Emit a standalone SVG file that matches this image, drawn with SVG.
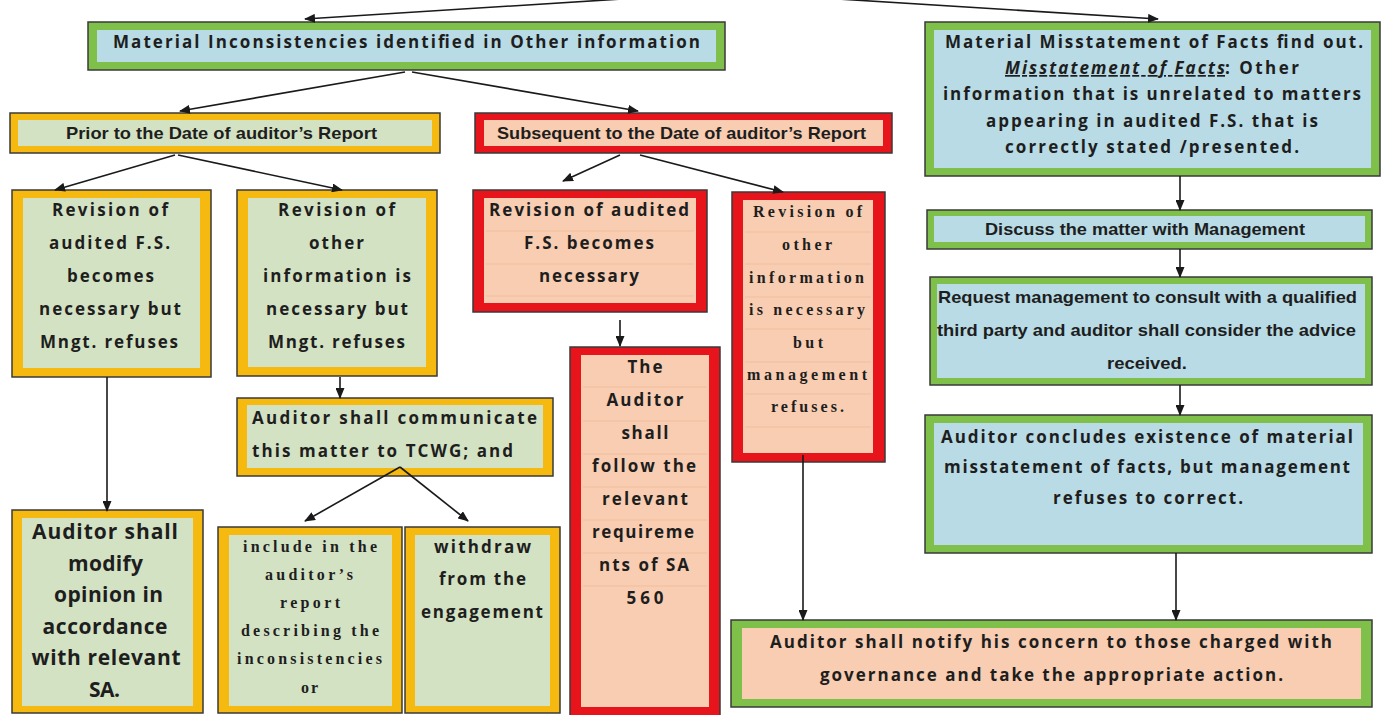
<svg xmlns="http://www.w3.org/2000/svg" width="1386" height="715" viewBox="0 0 1386 715">
  <style>
    .frame { stroke: #3a3a3a; stroke-width: 1.5; }
    .g-out { fill: #7fc04a; }
    .o-out { fill: #f5b90f; }
    .r-out { fill: #e8141c; }
    .blue { fill: #b8dbe6; }
    .sage { fill: #d4e2c4; }
    .peach { fill: #f8cdb2; }
    .rule { stroke: #f2bd9e; stroke-width: 1; }
    text { font-family: "Open Sans", "DejaVu Sans", sans-serif; font-weight: bold; fill: #1e1e1e; text-anchor: middle; font-size: 17px; }
    .cd { font-family: "Liberation Sans", Arial, sans-serif; }
    .serif { font-family: "Liberation Serif", "Times New Roman", serif; font-size: 16px; }
    .big { font-size: 21px; }
    .start { text-anchor: start; }
    .em { font-style: italic; text-decoration: underline; }
    .conn line { stroke: #1a1a1a; stroke-width: 1.6; marker-end: url(#arrow); }
  </style>
  <defs>
    <marker id="arrow" markerUnits="userSpaceOnUse" markerWidth="11" markerHeight="9" refX="10" refY="4.5" orient="auto">
      <path d="M0,0 L11,4.5 L0,9 z" fill="#1a1a1a"/>
    </marker>
  </defs>
  <rect width="1386" height="715" fill="#ffffff"/>

  <g id="n-inconsistencies">
    <rect class="g-out frame" x="88" y="22" width="637" height="48"/>
    <rect class="blue" x="97" y="30" width="619" height="32"/>
    <text x="406.5" y="48" textLength="587" lengthAdjust="spacing">Material Inconsistencies identified in Other information</text>
  </g>

  <g id="n-prior">
    <rect class="o-out frame" x="10" y="113" width="430" height="40"/>
    <rect class="sage" x="18" y="120" width="414" height="26"/>
    <text class="cd" x="221.5" y="139" textLength="311" lengthAdjust="spacingAndGlyphs">Prior to the Date of auditor’s Report</text>
  </g>

  <g id="n-subsequent">
    <rect class="r-out frame" x="475" y="113" width="417" height="40"/>
    <rect class="peach" x="484" y="120" width="399" height="26"/>
    <text class="cd" x="681.5" y="139" textLength="369" lengthAdjust="spacingAndGlyphs">Subsequent to the Date of auditor’s Report</text>
  </g>

  <g id="n-prior-fs">
    <rect class="o-out frame" x="12" y="190" width="199" height="187"/>
    <rect class="sage" x="23" y="198" width="177" height="170"/>
    <text x="110" y="216" textLength="116" lengthAdjust="spacing">Revision of</text>
    <text x="109.5" y="249" textLength="121" lengthAdjust="spacing">audited F.S.</text>
    <text x="110.5" y="282" textLength="87" lengthAdjust="spacing">becomes</text>
    <text x="110" y="315" textLength="142" lengthAdjust="spacing">necessary but</text>
    <text x="109" y="348" textLength="138" lengthAdjust="spacing">Mngt. refuses</text>
  </g>

  <g id="n-prior-oi">
    <rect class="o-out frame" x="237" y="190" width="200" height="186"/>
    <rect class="sage" x="248" y="198" width="178" height="169"/>
    <text x="336.5" y="216" textLength="117" lengthAdjust="spacing">Revision of</text>
    <text x="336.5" y="249" textLength="55" lengthAdjust="spacing">other</text>
    <text x="337" y="282" textLength="148" lengthAdjust="spacing">information is</text>
    <text x="337" y="315" textLength="142" lengthAdjust="spacing">necessary but</text>
    <text x="336.5" y="348" textLength="137" lengthAdjust="spacing">Mngt. refuses</text>
  </g>

  <g id="n-communicate">
    <rect class="o-out frame" x="237" y="398" width="316" height="78"/>
    <rect class="sage" x="247" y="405" width="296" height="63"/>
    <text class="start" x="252" y="424" textLength="285" lengthAdjust="spacing">Auditor shall communicate</text>
    <text class="start" x="252" y="457" textLength="261" lengthAdjust="spacing">this matter to TCWG; and</text>
  </g>

  <g id="n-modify">
    <rect class="o-out frame" x="12" y="510" width="191" height="203"/>
    <rect class="sage" x="22" y="518" width="171" height="188"/>
    <text class="big" x="105" y="539" textLength="146" lengthAdjust="spacing">Auditor shall</text>
    <text class="big" x="105.5" y="571" textLength="75" lengthAdjust="spacing">modify</text>
    <text class="big" x="108.5" y="602" textLength="109" lengthAdjust="spacing">opinion in</text>
    <text class="big" x="105" y="634" textLength="125" lengthAdjust="spacing">accordance</text>
    <text class="big" x="106" y="665" textLength="149" lengthAdjust="spacing">with relevant</text>
    <text class="big" x="104.5" y="697" textLength="31" lengthAdjust="spacing">SA.</text>
  </g>

  <g id="n-include">
    <rect class="o-out frame" x="218" y="527" width="184" height="186"/>
    <rect class="sage" x="229" y="535" width="163" height="171"/>
    <text class="serif" x="310" y="552" textLength="134" lengthAdjust="spacing">include in the</text>
    <text class="serif" x="309" y="580" textLength="88" lengthAdjust="spacing">auditor’s</text>
    <text class="serif" x="310" y="608" textLength="60" lengthAdjust="spacing">report</text>
    <text class="serif" x="310" y="636" textLength="138" lengthAdjust="spacing">describing the</text>
    <text class="serif" x="309.5" y="664" textLength="145" lengthAdjust="spacing">inconsistencies</text>
    <text class="serif" x="309.5" y="693" textLength="17" lengthAdjust="spacing">or</text>
  </g>

  <g id="n-withdraw">
    <rect class="o-out frame" x="405" y="527" width="155" height="186"/>
    <rect class="sage" x="415" y="535" width="135" height="171"/>
    <text x="482.5" y="553" textLength="97" lengthAdjust="spacing">withdraw</text>
    <text x="482.5" y="585" textLength="87" lengthAdjust="spacing">from the</text>
    <text x="482" y="618" textLength="122" lengthAdjust="spacing">engagement</text>
  </g>

  <g id="n-sub-fs">
    <rect class="r-out frame" x="473" y="190" width="234" height="122"/>
    <rect class="peach" x="484" y="198" width="212" height="105"/>
    <line class="rule" x1="486" y1="231" x2="694" y2="231"/>
    <line class="rule" x1="486" y1="264" x2="694" y2="264"/>
    <line class="rule" x1="486" y1="296" x2="694" y2="296"/>
    <text x="589" y="216" textLength="200" lengthAdjust="spacing">Revision of audited</text>
    <text x="589" y="249" textLength="130" lengthAdjust="spacing">F.S. becomes</text>
    <text x="589" y="282" textLength="100" lengthAdjust="spacing">necessary</text>
  </g>

  <g id="n-sa560">
    <rect class="r-out frame" x="570" y="347" width="150" height="372"/>
    <rect class="peach" x="581" y="355" width="128" height="352"/>
    <line class="rule" x1="583" y1="387" x2="707" y2="387"/>
    <line class="rule" x1="583" y1="421" x2="707" y2="421"/>
    <line class="rule" x1="583" y1="454" x2="707" y2="454"/>
    <line class="rule" x1="583" y1="487" x2="707" y2="487"/>
    <line class="rule" x1="583" y1="520" x2="707" y2="520"/>
    <line class="rule" x1="583" y1="553" x2="707" y2="553"/>
    <line class="rule" x1="583" y1="586" x2="707" y2="586"/>
    <text x="645" y="373" textLength="35" lengthAdjust="spacing">The</text>
    <text x="645" y="406" textLength="77" lengthAdjust="spacing">Auditor</text>
    <text x="645" y="439" textLength="47" lengthAdjust="spacing">shall</text>
    <text x="644" y="472" textLength="104" lengthAdjust="spacing">follow the</text>
    <text x="645" y="505" textLength="86" lengthAdjust="spacing">relevant</text>
    <text x="643" y="538" textLength="102" lengthAdjust="spacing">requireme</text>
    <text x="644" y="571" textLength="90" lengthAdjust="spacing">nts of SA</text>
    <text x="645" y="604" textLength="37" lengthAdjust="spacing">560</text>
  </g>

  <g id="n-sub-oi">
    <rect class="r-out frame" x="732" y="192" width="153" height="270"/>
    <rect class="peach" x="743" y="200" width="130" height="253"/>
    <line class="rule" x1="745" y1="232" x2="871" y2="232"/>
    <line class="rule" x1="745" y1="264" x2="871" y2="264"/>
    <line class="rule" x1="745" y1="297" x2="871" y2="297"/>
    <line class="rule" x1="745" y1="329" x2="871" y2="329"/>
    <line class="rule" x1="745" y1="362" x2="871" y2="362"/>
    <line class="rule" x1="745" y1="394" x2="871" y2="394"/>
    <line class="rule" x1="745" y1="427" x2="871" y2="427"/>
    <text class="serif" x="807.5" y="217" textLength="109" lengthAdjust="spacing">Revision of</text>
    <text class="serif" x="807" y="250" textLength="50" lengthAdjust="spacing">other</text>
    <text class="serif" x="806.5" y="283" textLength="115" lengthAdjust="spacing">information</text>
    <text class="serif" x="807" y="315" textLength="116" lengthAdjust="spacing">is necessary</text>
    <text class="serif" x="808" y="348" textLength="30" lengthAdjust="spacing">but</text>
    <text class="serif" x="807" y="380" textLength="120" lengthAdjust="spacing">management</text>
    <text class="serif" x="807.5" y="412" textLength="73" lengthAdjust="spacing">refuses.</text>
  </g>

  <g id="n-facts">
    <rect class="g-out frame" x="925" y="22" width="455" height="154"/>
    <rect class="blue" x="934" y="30" width="437" height="138"/>
    <text x="1154" y="48" textLength="418" lengthAdjust="spacing">Material Misstatement of Facts find out.</text>
    <text class="start em" x="1005" y="74" textLength="220" lengthAdjust="spacing">Misstatement of Facts</text>
    <text class="start" x="1225" y="74" textLength="74" lengthAdjust="spacing">: Other</text>
    <text x="1152" y="100" textLength="418" lengthAdjust="spacing">information that is unrelated to matters</text>
    <text x="1152" y="127" textLength="332" lengthAdjust="spacing">appearing in audited F.S. that is</text>
    <text x="1152" y="153" textLength="294" lengthAdjust="spacing">correctly stated /presented.</text>
  </g>

  <g id="n-discuss">
    <rect class="g-out frame" x="927" y="210" width="445" height="39"/>
    <rect class="blue" x="934" y="216" width="431" height="26"/>
    <text class="cd" x="1145" y="235" textLength="320" lengthAdjust="spacingAndGlyphs">Discuss the matter with Management</text>
  </g>

  <g id="n-request">
    <rect class="g-out frame" x="930" y="277" width="442" height="108"/>
    <rect class="blue" x="937" y="284" width="428" height="94"/>
    <text class="cd" x="1147.5" y="303" textLength="419" lengthAdjust="spacingAndGlyphs">Request management to consult with a qualified</text>
    <text class="cd" x="1146.5" y="336" textLength="419" lengthAdjust="spacingAndGlyphs">third party and auditor shall consider the advice</text>
    <text class="cd" x="1147" y="369" textLength="80" lengthAdjust="spacingAndGlyphs">received.</text>
  </g>

  <g id="n-concludes">
    <rect class="g-out frame" x="925" y="415" width="447" height="138"/>
    <rect class="blue" x="934" y="423" width="429" height="122"/>
    <text x="1147" y="443" textLength="412" lengthAdjust="spacing">Auditor concludes existence of material</text>
    <text x="1147" y="473" textLength="406" lengthAdjust="spacing">misstatement of facts, but management</text>
    <text x="1148" y="504" textLength="190" lengthAdjust="spacing">refuses to correct.</text>
  </g>

  <g id="n-notify">
    <rect class="g-out frame" x="731" y="620" width="641" height="87"/>
    <rect class="peach" x="742" y="628" width="619" height="71"/>
    <text x="1051" y="648" textLength="562" lengthAdjust="spacing">Auditor shall notify his concern to those charged with</text>
    <text x="1051.5" y="681" textLength="463" lengthAdjust="spacing">governance and take the appropriate action.</text>
  </g>

  <g id="connectors" class="conn">
    <line x1="622" y1="-1" x2="305" y2="19"/>
    <line x1="838" y1="-1" x2="1158" y2="19"/>
    <line x1="405" y1="72" x2="180" y2="111"/>
    <line x1="412" y1="72" x2="638" y2="111"/>
    <line x1="175" y1="155" x2="55" y2="190"/>
    <line x1="178" y1="155" x2="342" y2="190"/>
    <line x1="620" y1="155" x2="563" y2="181"/>
    <line x1="640" y1="155" x2="783" y2="192"/>
    <line x1="340" y1="377" x2="340" y2="398"/>
    <line x1="400" y1="467" x2="305" y2="521"/>
    <line x1="400" y1="467" x2="468" y2="521"/>
    <line x1="107" y1="377" x2="107" y2="511"/>
    <line x1="620" y1="320" x2="620" y2="346"/>
    <line x1="803" y1="455" x2="803" y2="620"/>
    <line x1="1180" y1="176" x2="1180" y2="210"/>
    <line x1="1180" y1="249" x2="1180" y2="277"/>
    <line x1="1180" y1="385" x2="1180" y2="415"/>
    <line x1="1176" y1="553" x2="1176" y2="620"/>
  </g>
</svg>
